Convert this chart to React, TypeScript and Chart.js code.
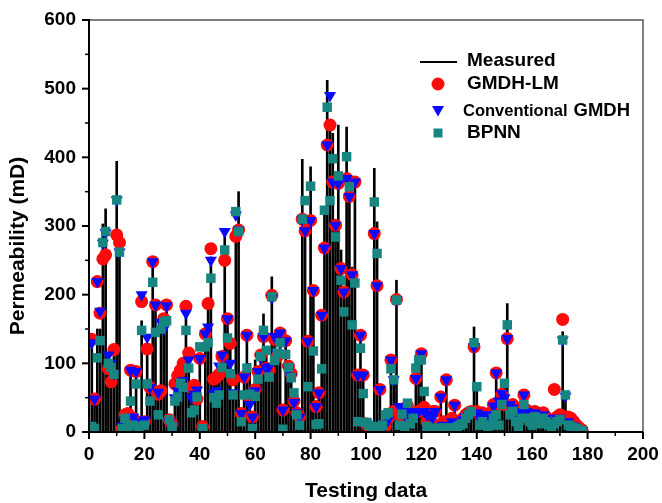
import React, { useEffect, useRef } from 'react';
import { Chart, registerables } from 'chart.js';

Chart.register(...registerables);

const FONT = '"Liberation Sans", Arial, Helvetica, sans-serif';

const sampleNo = [
  1, 2, 3, 4, 5, 6, 7, 8, 9, 10, 11, 12, 13, 14, 15, 16, 17, 18, 19, 20,
  21, 22, 23, 24, 25, 26, 27, 28, 29, 30, 31, 32, 33, 34, 35, 36, 37, 38, 39, 40,
  41, 42, 43, 44, 45, 46, 47, 48, 49, 50, 51, 52, 53, 54, 55, 56, 57, 58, 59, 60,
  61, 62, 63, 64, 65, 66, 67, 68, 69, 70, 71, 72, 73, 74, 75, 76, 77, 78, 79, 80,
  81, 82, 83, 84, 85, 86, 87, 88, 89, 90, 91, 92, 93, 94, 95, 96, 97, 98, 99, 100,
  101, 102, 103, 104, 105, 106, 107, 108, 109, 110, 111, 112, 113, 114, 115, 116, 117, 118, 119, 120,
  121, 122, 123, 124, 125, 126, 127, 128, 129, 130, 131, 132, 133, 134, 135, 136, 137, 138, 139, 140,
  141, 142, 143, 144, 145, 146, 147, 148, 149, 150, 151, 152, 153, 154, 155, 156, 157, 158, 159, 160,
  161, 162, 163, 164, 165, 166, 167, 168, 169, 170, 171, 172, 173, 174, 175, 176, 177, 178,
];

const measured = [
  130, 45, 150, 150, 303, 325, 110, 100, 110, 394, 270, 8, 20, 25, 85, 20, 80, 15, 162, 18,
  120, 77, 240, 180, 55, 150, 165, 185, 15, 10, 70, 80, 95, 105, 170, 115, 60, 60, 60, 110,
  5, 145, 190, 255, 75, 80, 85, 110, 293, 165, 125, 60, 300, 350, 25, 80, 140, 100, 20, 105,
  90, 110, 172, 120, 90, 226, 140, 115, 145, 32, 130, 100, 80, 57, 30, 25, 397, 300, 135, 386,
  207, 40, 57, 172, 320, 512, 450, 435, 300, 447, 265, 210, 444, 350, 240, 370, 90, 145, 85, 15,
  10, 10, 384, 306, 60, 5, 10, 25, 100, 75, 221, 20, 35, 20, 40, 20, 30, 80, 100, 110,
  55, 10, 25, 30, 10, 5, 50, 10, 75, 5, 20, 40, 10, 15, 20, 25, 25, 30, 153, 70,
  20, 25, 20, 15, 30, 40, 85, 40, 55, 75, 187, 30, 40, 20, 15, 30, 55, 30, 25, 20,
  30, 20, 15, 25, 20, 15, 10, 15, 20, 20, 146, 50, 15, 10, 8, 5, 3, 2,
];

const gmdhLM = [
  135, 48, 219, 173, 252, 258, 92, 73, 120, 287, 276, 5, 25, 27, 90, 20, 88, 12, 190, 15,
  121, 65, 248, 185, 55, 60, 165, 185, 18, 12, 70, 82, 90, 100, 183, 115, 65, 68, 48, 107,
  8, 143, 187, 267, 77, 80, 84, 110, 250, 165, 129, 76, 285, 294, 27, 80, 141, 50, 22, 62,
  88, 112, 139, 93, 90, 199, 135, 110, 144, 32, 133, 96, 85, 45, 28, 22, 310, 293, 132, 308,
  206, 37, 57, 170, 268, 418, 447, 364, 301, 362, 238, 204, 369, 343, 229, 364, 83, 141, 83, 12,
  8, 5, 289, 213, 62, 5, 8, 20, 105, 30, 193, 25, 30, 15, 38, 22, 25, 78, 30, 114,
  36, 15, 25, 30, 30, 10, 51, 15, 76, 10, 20, 39, 12, 15, 20, 25, 28, 30, 124, 30,
  25, 28, 25, 20, 28, 40, 86, 40, 55, 40, 136, 35, 40, 30, 15, 35, 54, 32, 28, 25,
  30, 25, 20, 28, 22, 18, 15, 62, 22, 25, 164, 22, 22, 20, 15, 10, 6, 3,
];

const convGMDH = [
  130, 48, 219, 176, 275, 290, 112, 100, 85, 338, 262, 8, 18, 10, 90, 22, 88, 15, 200, 18,
  138, 65, 248, 185, 58, 160, 150, 184, 15, 10, 50, 60, 71, 75, 173, 105, 50, 55, 61, 107,
  6, 143, 153, 250, 56, 60, 96, 112, 292, 165, 100, 57, 316, 294, 27, 80, 141, 40, 22, 60,
  88, 108, 139, 93, 95, 195, 139, 115, 144, 32, 133, 90, 80, 43, 28, 22, 310, 293, 132, 308,
  206, 37, 57, 170, 268, 418, 490, 364, 301, 362, 238, 204, 369, 343, 229, 364, 83, 141, 83, 15,
  10, 5, 289, 213, 62, 5, 12, 18, 105, 76, 193, 37, 33, 25, 30, 20, 28, 78, 30, 114,
  30, 25, 25, 20, 30, 8, 51, 10, 76, 8, 15, 39, 10, 12, 18, 22, 25, 28, 124, 28,
  20, 25, 20, 15, 25, 38, 86, 45, 56, 50, 136, 40, 35, 25, 15, 30, 54, 30, 22, 20,
  28, 22, 18, 25, 20, 15, 12, 15, 20, 20, 134, 52, 15, 10, 8, 5, 3, 2,
];

const bpnn = [
  8, 5, 108, 133, 276, 292, 100, 94, 84, 338, 262, 5, 20, 8, 45, 10, 70, 8, 148, 10,
  70, 45, 218, 145, 25, 150, 160, 162, 18, 8, 45, 51, 71, 65, 148, 93, 28, 32, 51, 124,
  5, 124, 130, 224, 50, 42, 54, 94, 265, 137, 85, 54, 321, 292, 15, 54, 93, 55, 5, 52,
  77, 110, 148, 119, 80, 197, 104, 115, 130, 4, 113, 94, 79, 57, 25, 10, 310, 337, 66, 358,
  118, 11, 12, 92, 323, 473, 337, 398, 284, 373, 221, 175, 401, 357, 156, 217, 15, 122, 56, 14,
  10, 8, 335, 260, 8, 10, 25, 28, 92, 76, 192, 10, 26, 8, 42, 12, 20, 93, 105, 105,
  59, 8, 5, 6, 5, 5, 5, 6, 5, 4, 6, 5, 8, 10, 12, 20, 25, 30, 130, 66,
  10, 15, 10, 8, 10, 20, 25, 10, 40, 71, 156, 25, 30, 15, 8, 20, 40, 20, 15, 10,
  22, 15, 12, 20, 15, 10, 8, 12, 15, 18, 134, 54, 10, 8, 6, 5, 3, 2,
];

const xMajorTicks = [0, 20, 40, 60, 80, 100, 120, 140, 160, 180, 200];
const xMinorTicks = [10, 30, 50, 70, 90, 110, 130, 150, 170, 190];
const yMajorTicks = [0, 100, 200, 300, 400, 500, 600];
const yMinorTicks = [50, 150, 250, 350, 450, 550];

const seriesNames = ['Measured', 'GMDH-LM', 'Conventional GMDH', 'BPNN'];
const RED = '#ff0a0a';
const BLUE = '#0a0aff';
const TEAL = '#178580';

const toPoints = (vals: number[]) => vals.map((v, i) => ({ x: sampleNo[i], y: v }));

const framePlugin = {
  id: 'frameAndLegend',
  afterDraw(chart: any) {
    const { ctx, chartArea: a, scales } = chart;
    const xs = scales.x;
    const ys = scales.y;
    ctx.save();
    // top & right frame
    ctx.strokeStyle = '#555';
    ctx.lineWidth = 1.5;
    ctx.beginPath();
    ctx.moveTo(a.left, a.top);
    ctx.lineTo(a.right, a.top);
    ctx.lineTo(a.right, a.bottom);
    ctx.stroke();
    // axes
    ctx.strokeStyle = '#000';
    ctx.lineWidth = 2;
    ctx.beginPath();
    ctx.moveTo(a.left, a.top - 1);
    ctx.lineTo(a.left, a.bottom);
    ctx.lineTo(a.right, a.bottom);
    ctx.stroke();
    // ticks
    const tick = (v: number, len: number, horiz: boolean) => {
      ctx.beginPath();
      if (horiz) {
        const px = xs.getPixelForValue(v);
        ctx.moveTo(px, a.bottom);
        ctx.lineTo(px, a.bottom + len);
      } else {
        const py = ys.getPixelForValue(v);
        ctx.moveTo(a.left, py);
        ctx.lineTo(a.left - len, py);
      }
      ctx.stroke();
    };
    ctx.lineWidth = 2;
    xMajorTicks.forEach((v) => tick(v, 7, true));
    yMajorTicks.forEach((v) => tick(v, 7, false));
    ctx.lineWidth = 1.5;
    xMinorTicks.forEach((v) => tick(v, 4, true));
    yMinorTicks.forEach((v) => tick(v, 4, false));

    // axis titles
    ctx.fillStyle = '#000';
    ctx.textAlign = 'center';
    ctx.textBaseline = 'middle';
    ctx.font = `bold 21px ${FONT}`;
    ctx.fillText('Testing data', (a.left + a.right) / 2, 491);
    ctx.save();
    ctx.translate(18, 246);
    ctx.rotate(-Math.PI / 2);
    ctx.fillText('Permeability (mD)', 0, 0);
    ctx.restore();

    // legend
    ctx.textAlign = 'left';
    ctx.font = `bold 19px ${FONT}`;
    ctx.strokeStyle = '#000';
    ctx.lineWidth = 2;
    ctx.beginPath();
    ctx.moveTo(420, 62);
    ctx.lineTo(457, 62);
    ctx.stroke();
    ctx.fillText(seriesNames[0], 467, 61);

    ctx.fillStyle = RED;
    ctx.beginPath();
    ctx.arc(438, 84, 6.5, 0, Math.PI * 2);
    ctx.fill();
    ctx.fillStyle = '#000';
    ctx.fillText(seriesNames[1], 467, 84);

    ctx.fillStyle = BLUE;
    ctx.beginPath();
    ctx.moveTo(432, 106);
    ctx.lineTo(444, 106);
    ctx.lineTo(438, 116.5);
    ctx.closePath();
    ctx.fill();
    ctx.fillStyle = '#000';
    const [w1, w2] = seriesNames[2].split(' ');
    ctx.font = `bold 16.5px ${FONT}`;
    ctx.fillText(w1, 463, 111);
    const wd = ctx.measureText(w1).width;
    ctx.font = `bold 18.5px ${FONT}`;
    ctx.fillText(w2, 463 + wd + 6, 111);

    ctx.fillStyle = TEAL;
    ctx.fillRect(433.5, 128.5, 9, 9);
    ctx.fillStyle = '#000';
    ctx.font = `bold 19px ${FONT}`;
    ctx.fillText(seriesNames[3], 467, 133);
    ctx.restore();
  },
};

export default function App() {
  const ref = useRef<HTMLCanvasElement | null>(null);
  useEffect(() => {
    if (!ref.current) return;
    const tickFont = { family: FONT, size: 19, weight: 'bold' as const };
    const chart = new Chart(ref.current, {
      type: 'scatter',
      data: {
        datasets: [
          {
            type: 'bar',
            label: seriesNames[0],
            data: toPoints(measured),
            backgroundColor: '#000',
            borderWidth: 0,
            barThickness: 2,
            order: 4,
          } as any,
          {
            type: 'scatter',
            label: seriesNames[1],
            data: toPoints(gmdhLM),
            pointStyle: 'circle',
            pointRadius: 6.5,
            backgroundColor: RED,
            borderWidth: 0,
            order: 3,
          },
          {
            type: 'scatter',
            label: seriesNames[2],
            data: toPoints(convGMDH),
            pointStyle: 'triangle',
            rotation: 180,
            pointRadius: 7,
            backgroundColor: BLUE,
            borderWidth: 0,
            order: 2,
          },
          {
            type: 'scatter',
            label: seriesNames[3],
            data: toPoints(bpnn),
            pointStyle: 'rect',
            pointRadius: 6.7,
            backgroundColor: TEAL,
            borderWidth: 0,
            order: 1,
          },
        ],
      },
      options: {
        responsive: false,
        animation: false,
        events: [],
        layout: { padding: { top: 20, right: 19, left: 0, bottom: 0 } },
        plugins: { legend: { display: false }, tooltip: { enabled: false } },
        scales: {
          x: {
            type: 'linear',
            min: 0,
            max: 200,
            offset: false,
            grid: { display: false, drawTicks: false },
            border: { display: false },
            afterBuildTicks: (s: any) => {
              s.ticks = xMajorTicks.map((v) => ({ value: v }));
            },
            afterFit: (s: any) => {
              s.height = 71;
              s.paddingLeft = 0;
              s.paddingRight = 0;
            },
            ticks: { font: tickFont, color: '#000', padding: 11, maxRotation: 0, autoSkip: false },
          },
          y: {
            type: 'linear',
            min: 0,
            max: 600,
            grid: { display: false, drawTicks: false },
            border: { display: false },
            afterBuildTicks: (s: any) => {
              s.ticks = yMajorTicks.map((v) => ({ value: v }));
            },
            afterFit: (s: any) => {
              s.width = 89;
              s.paddingTop = 0;
              s.paddingBottom = 0;
            },
            ticks: { font: tickFont, color: '#000', padding: 13, autoSkip: false },
          },
        },
      },
      plugins: [framePlugin],
    });
    return () => chart.destroy();
  }, []);
  return (
    <div style={{ position: 'absolute', left: 0, top: 0, width: 662, height: 503, background: '#fff' }}>
      <canvas ref={ref} width={662} height={503} style={{ display: 'block' }} />
    </div>
  );
}
